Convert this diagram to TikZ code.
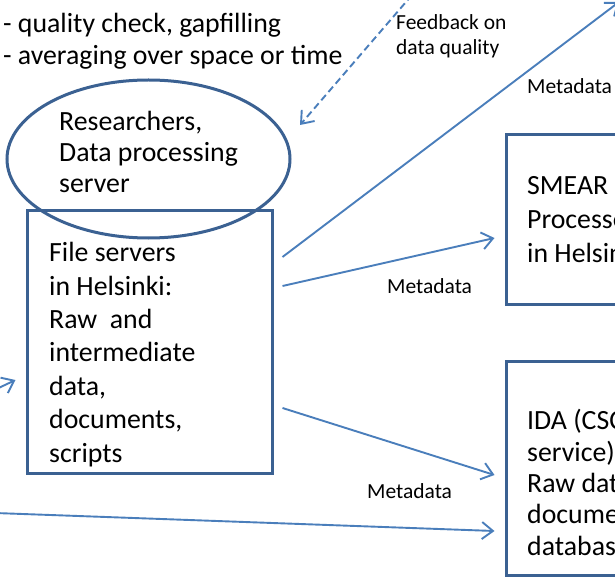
\documentclass[tikz,border=0pt]{standalone}
\usepackage{fontspec}
\setmainfont{Carlito}
\usetikzlibrary{arrows.meta,shapes.geometric,calc}
\definecolor{shapeline}{HTML}{3B6192}
\definecolor{linkline}{HTML}{4A7EBB}
\tikzset{
  outline/.style={draw=shapeline,line width=3pt},
  bigtext/.style={inner sep=0pt,anchor=base west,align=left,font=\fontsize{27.8}{33.4}\selectfont},
  smalltext/.style={inner sep=0pt,anchor=base west,align=left,font=\fontsize{21.5}{25}\selectfont},
  link/.style={draw=linkline,line width=1.9pt,-{Straight Barb[length=11pt,width=17pt]}},
  feedback/.style={link,dash pattern=on 7pt off 4pt}
}
\begin{document}
\begin{tikzpicture}[x=1pt,y=-1pt]
\useasboundingbox (0,0) rectangle (615,577);
\clip (0,0) rectangle (615,577);

% processing steps (anchored at the baseline of the last line)
\node[bigtext,font=\fontsize{27.8}{32}\selectfont] (steps) at (3,65)
  {- quality check, gapfilling\\- averaging over space or time};

% researchers and the file servers below them
\node[outline,ellipse,minimum width=283pt,minimum height=158pt,inner sep=0pt] (res) at (148.5,159) {};
\node[bigtext,font=\fontsize{27.8}{31}\selectfont] (restext) at (59,193)
  {Researchers,\\Data processing\\server};
\node[outline,rectangle,minimum width=245pt,minimum height=262pt,inner sep=0pt] (fs) at (149.5,342) {};
\node[bigtext] (fstext) at (49,462)
  {File servers\\in Helsinki:\\Raw\ \ and\\intermediate\\data,\\documents,\\scripts};

% target storages on the right
\node[outline,rectangle,minimum width=250pt,minimum height=169pt,inner sep=0pt] (smear) at (631,219.5) {};
\node[bigtext,font=\fontsize{27.8}{34}\selectfont] (smeartext) at (527,262)
  {SMEAR\\Processed\\in Helsinki};
\node[outline,rectangle,minimum width=250pt,minimum height=214pt,inner sep=0pt] (ida) at (631,468) {};
\node[bigtext,font=\fontsize{27.8}{31.3}\selectfont] (idatext) at (527,555)
  {IDA (CSC\\service)\\Raw data\\documents\\database};

% free ends of connectors leaving the frame
\coordinate (fbstart) at (412,-5);
\coordinate (upend) at (619,2);
\coordinate (leftin) at (-12,393);
\coordinate (bottomin) at (-5,513);

% connectors
\draw[feedback] (fbstart) -- (300,125);
\draw[link] ([shift={(9,-85)}]fs.east) -- (upend);
\draw[link] ([shift={(9,-56)}]fs.east) -- ([shift={(-10,18.5)}]smear.west);
\draw[link] ([shift={(9,66)}]fs.east) -- ([shift={(-10,7)}]ida.west);
\draw[link] (bottomin) -- ([shift={(-10,63)}]ida.west);
\draw[link] (leftin) -- ([shift={(-10,38)}]fs.west);

% labels
\node[smalltext] (fblabel) at (396,55) {Feedback on\\data quality};
\node[smalltext] (meta1) at (527,94) {Metadata};
\node[smalltext] (meta2) at (387,293) {Metadata};
\node[smalltext] (meta3) at (367,498) {Metadata};
\end{tikzpicture}
\end{document}
